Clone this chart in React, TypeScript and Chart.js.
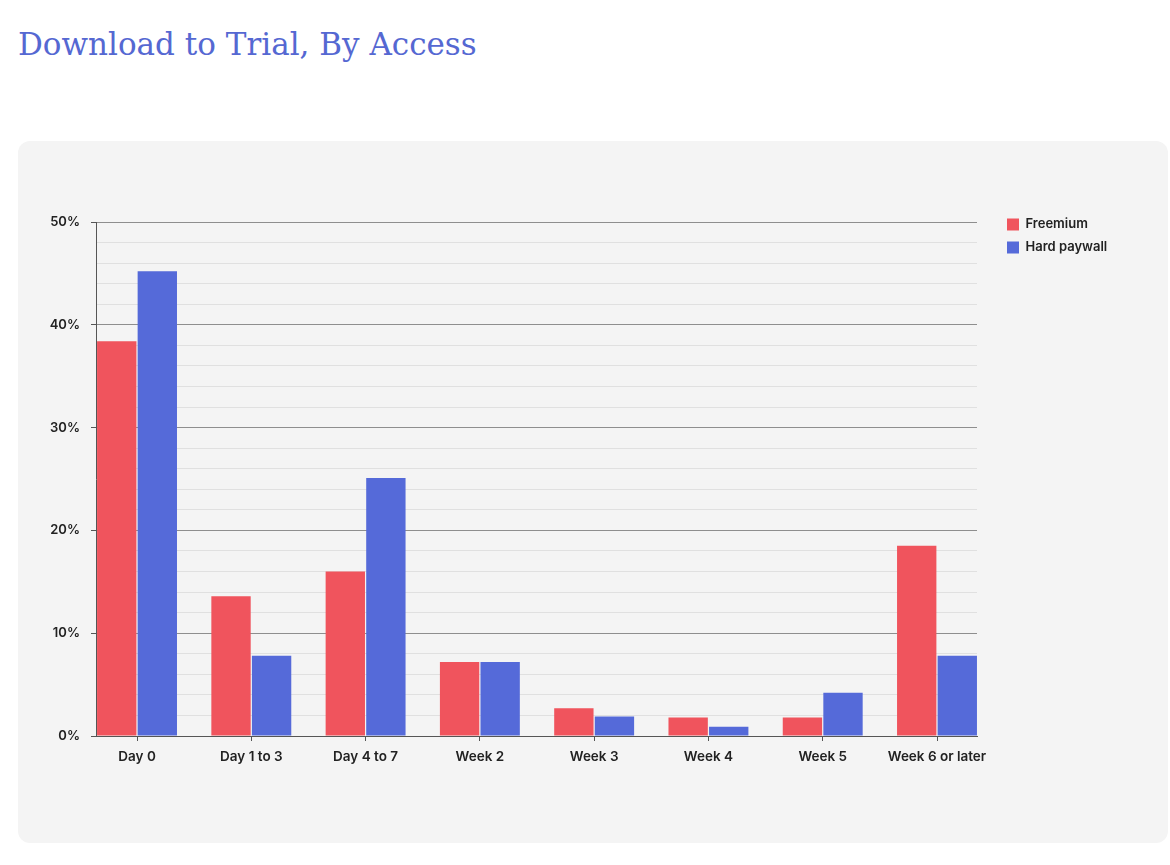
import React, { useEffect, useRef } from 'react';
import { Chart, registerables, ChartConfiguration, Plugin } from 'chart.js';

Chart.register(...registerables);

const categories = ['Day 0', 'Day 1 to 3', 'Day 4 to 7', 'Week 2', 'Week 3', 'Week 4', 'Week 5', 'Week 6 or later'];
const freemium = [38.4, 13.6, 16.0, 7.2, 2.7, 1.8, 1.8, 18.5];
const hardPaywall = [45.2, 7.8, 25.1, 7.2, 1.9, 0.9, 4.2, 7.8];
const yTicks = [0, 10, 20, 30, 40, 50];

const RED = '#f0545d';
const BLUE = '#556ad9';
const FONT = 'Inter, "Noto Sans", sans-serif';

// legend gets a fixed width so the chart area lands where it should
const legendWidth: Plugin = {
  id: 'legendWidth',
  beforeInit(chart: any) {
    const legend = chart.legend;
    if (!legend) return;
    const fit = legend.fit;
    legend.fit = function () {
      fit.call(this);
      this.width = 171;
    };
  },
};

const DownloadChart: React.FC = () => {
  const chartRef = useRef<HTMLCanvasElement>(null);

  useEffect(() => {
    if (!chartRef.current) return;
    const ctx = chartRef.current.getContext('2d');
    if (!ctx) return;

    const config: ChartConfiguration = {
      type: 'bar',
      data: {
        datasets: [
          {
            label: 'Freemium',
            backgroundColor: RED,
            data: freemium.map((v, i) => ({ x: i, y: v })),
          },
          {
            label: 'Hard paywall',
            backgroundColor: BLUE,
            data: hardPaywall.map((v, i) => ({ x: i, y: v })),
          },
        ],
      },
      options: {
        animation: false,
        responsive: true,
        maintainAspectRatio: false,
        layout: { padding: { top: 67, left: 0, right: 0, bottom: 0 } },
        datasets: {
          bar: { categoryPercentage: 0.71, barPercentage: 0.97 },
        },
        plugins: {
          // empty title, only used as a spacer above the plot
          title: {
            display: true,
            text: '',
            padding: 0,
            font: { size: 14, lineHeight: 1 },
          },
          tooltip: { enabled: false },
          legend: {
            position: 'right',
            align: 'start',
            labels: {
              boxWidth: 12,
              boxHeight: 12,
              padding: 10,
              color: '#222',
              font: { family: FONT, size: 13, weight: 600 },
            },
          },
        },
        scales: {
          x: {
            type: 'linear',
            min: -0.359,
            max: 7.35,
            offset: false,
            afterFit: (s: any) => {
              s.height = 107;
            },
            grid: {
              offset: false,
              drawOnChartArea: false,
              drawTicks: true,
              tickLength: 5,
              tickColor: '#555',
            },
            border: { color: '#555', width: 1 },
            ticks: {
              stepSize: 1,
              autoSkip: false,
              includeBounds: false,
              maxRotation: 0,
              padding: 8,
              color: '#222',
              font: { family: FONT, size: 13.5, weight: 600 },
              callback: (v: any) => (Number.isInteger(v) ? categories[v] ?? '' : ''),
            },
          },
          y: {
            min: 0,
            max: 50,
            afterFit: (s: any) => {
              s.width = 78;
            },
            grid: {
              color: (c: any) => (c.tick && c.tick.value % 10 === 0 ? '#8e8e8e' : '#e0e0e0'),
              tickColor: (c: any) => (c.tick && c.tick.value % 10 === 0 ? '#555' : 'rgba(0,0,0,0)'),
              tickLength: 5,
            },
            border: { color: '#555', width: 1 },
            ticks: {
              stepSize: 2,
              autoSkip: false,
              padding: 11,
              color: '#222',
              font: { family: FONT, size: 13, weight: 600 },
              callback: (v: any) => (yTicks.includes(v) ? `${v}%` : ''),
            },
          },
          // invisible axis that keeps a gap between plot and legend
          spacer: {
            type: 'linear',
            position: 'right',
            display: true,
            afterFit: (s: any) => {
              s.width = 20;
            },
            grid: { display: false, drawTicks: false },
            border: { display: false },
            ticks: { display: false },
          },
        },
      },
      plugins: [legendWidth],
    };

    const chart = new Chart(ctx, config);
    return () => {
      chart.destroy();
    };
  }, []);

  return <canvas ref={chartRef} />;
};

const App: React.FC = () => {
  return (
    <div style={{ position: 'absolute', left: 0, top: 0, width: 1170, height: 865, background: '#fff' }}>
      <div
        style={{
          position: 'absolute',
          left: 18,
          top: 24,
          fontFamily: '"DejaVu Serif", serif',
          fontSize: 31,
          color: '#5568d2',
          whiteSpace: 'nowrap',
          lineHeight: '40px',
        }}
      >
        Download to Trial, By Access
      </div>
      <div
        style={{
          position: 'absolute',
          left: 18,
          top: 141,
          width: 1150,
          height: 702,
          background: '#f4f4f4',
          borderRadius: 12,
        }}
      >
        <DownloadChart />
      </div>
    </div>
  );
};

export default App;
